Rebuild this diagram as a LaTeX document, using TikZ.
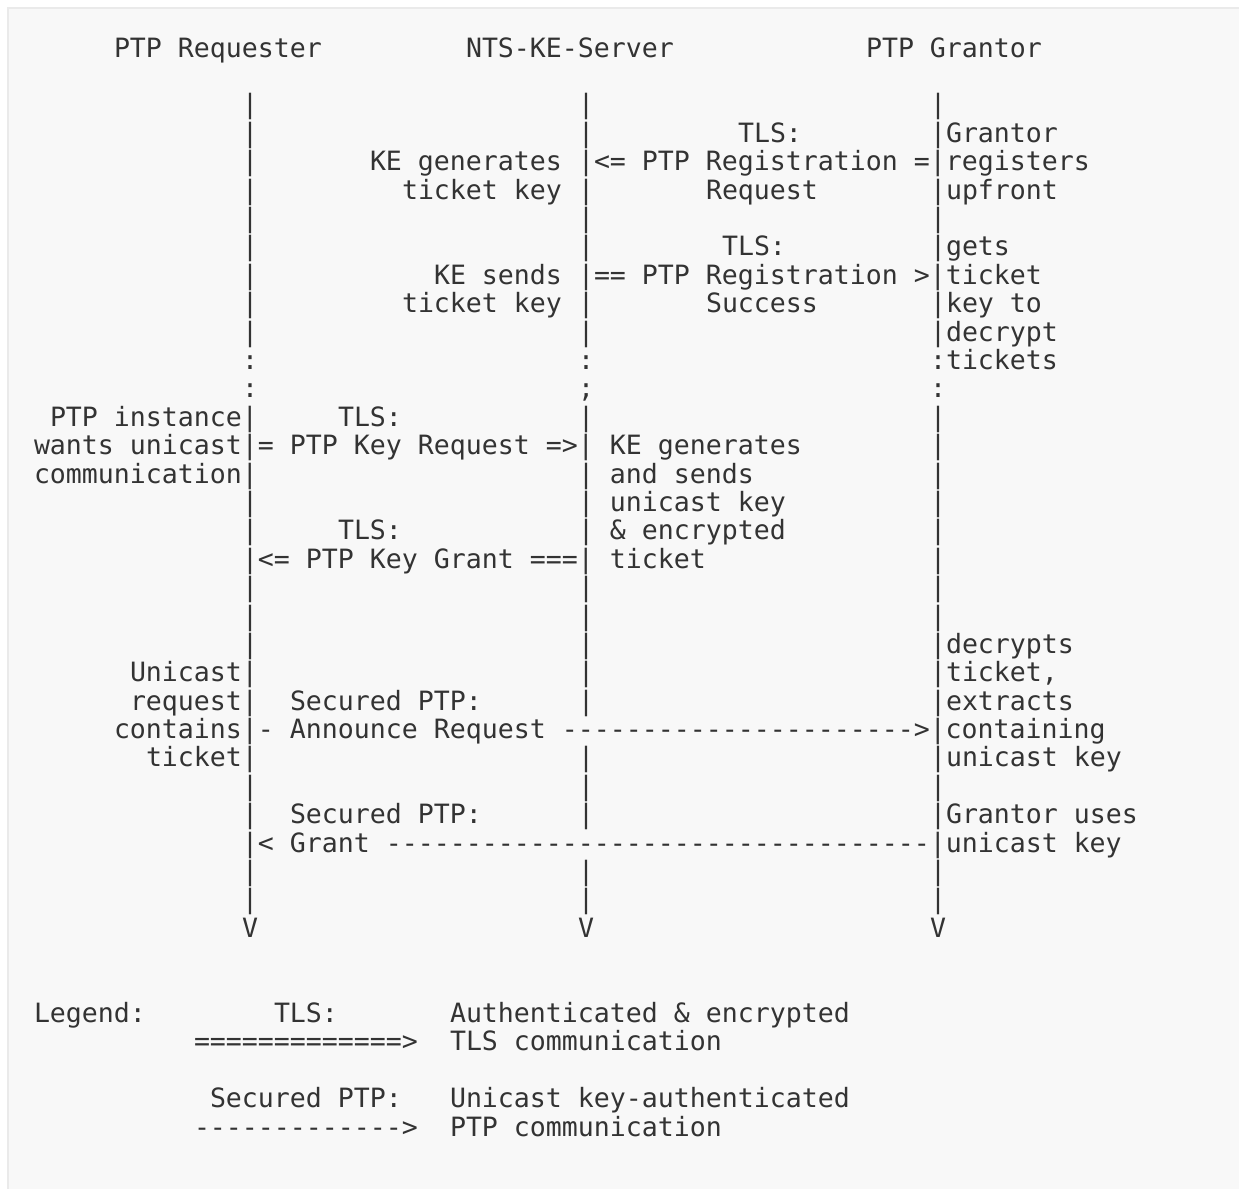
\documentclass[tikz,border=0pt]{standalone}
\usepackage{fontspec}
\setmonofont{DejaVu Sans Mono}
\definecolor{txtcol}{HTML}{333333}
\definecolor{bgcol}{HTML}{F8F8F8}
\definecolor{framecol}{HTML}{EAEAEA}
\tikzset{
  txt/.style={anchor=base west, inner sep=0pt, outer sep=0pt, text=txtcol,
    font=\ttfamily\fontsize{26.57}{28.39}\selectfont},
}
% place text at (line, column) of the character grid
\newcommand\putt[3]{\node[txt] (L#1-#2) at ({34+16*#2},{57.2+28.39*#1}) {#3};}
\newcommand\bars[1]{\putt{#1}{13}{|}\putt{#1}{34}{|}\putt{#1}{56}{|}}
\begin{document}
\begin{tikzpicture}[x=1pt,y=-1pt]
\useasboundingbox (0,0) rectangle (1239,1189);
\fill[white] (0,0) rectangle (1239,1189);
\fill[bgcol] (8,8) rectangle (1239,1189);
\draw[framecol, line width=2pt] (8,1189) -- (8,8) -- (1239,8);
% header
\putt{0}{5}{PTP Requester}
\putt{0}{27}{NTS-KE-Server}
\putt{0}{52}{PTP Grantor}
% registration
\bars{2}
\putt{3}{13}{|}\putt{3}{34}{|}\putt{3}{44}{TLS:}\putt{3}{56}{|Grantor}
\putt{4}{13}{|}\putt{4}{21}{KE generates}\putt{4}{34}{|<= PTP Registration =|registers}
\putt{5}{13}{|}\putt{5}{23}{ticket key}\putt{5}{34}{|}\putt{5}{42}{Request}\putt{5}{56}{|upfront}
\bars{6}
\putt{7}{13}{|}\putt{7}{34}{|}\putt{7}{43}{TLS:}\putt{7}{56}{|gets}
\putt{8}{13}{|}\putt{8}{25}{KE sends}\putt{8}{34}{|== PTP Registration >|ticket}
\putt{9}{13}{|}\putt{9}{23}{ticket key}\putt{9}{34}{|}\putt{9}{42}{Success}\putt{9}{56}{|key to}
\putt{10}{13}{|}\putt{10}{34}{|}\putt{10}{56}{|decrypt}
\putt{11}{13}{:}\putt{11}{34}{:}\putt{11}{56}{:tickets}
\putt{12}{13}{:}\putt{12}{34}{;}\putt{12}{56}{:}
% key request
\putt{13}{1}{PTP instance|}\putt{13}{19}{TLS:}\putt{13}{34}{|}\putt{13}{56}{|}
\putt{14}{0}{wants unicast|= PTP Key Request =>| KE generates}\putt{14}{56}{|}
\putt{15}{0}{communication|}\putt{15}{34}{| and sends}\putt{15}{56}{|}
\putt{16}{13}{|}\putt{16}{34}{| unicast key}\putt{16}{56}{|}
\putt{17}{13}{|}\putt{17}{19}{TLS:}\putt{17}{34}{| \& encrypted}\putt{17}{56}{|}
\putt{18}{13}{|<= PTP Key Grant ===| ticket}\putt{18}{56}{|}
\bars{19}
\bars{20}
% unicast
\putt{21}{13}{|}\putt{21}{34}{|}\putt{21}{56}{|decrypts}
\putt{22}{6}{Unicast|}\putt{22}{34}{|}\putt{22}{56}{|ticket,}
\putt{23}{6}{request|}\putt{23}{16}{Secured PTP:}\putt{23}{34}{|}\putt{23}{56}{|extracts}
\putt{24}{5}{contains|- Announce Request ----------{}----------{}-{}->|containing}
\putt{25}{7}{ticket|}\putt{25}{34}{|}\putt{25}{56}{|unicast key}
\bars{26}
\putt{27}{13}{|}\putt{27}{16}{Secured PTP:}\putt{27}{34}{|}\putt{27}{56}{|Grantor uses}
\putt{28}{13}{|< Grant ----------{}----------{}----------{}-{}-{}-{}-|unicast key}
\bars{29}
\bars{30}
\putt{31}{13}{V}\putt{31}{34}{V}\putt{31}{56}{V}
% legend
\putt{34}{0}{Legend:}\putt{34}{15}{TLS:}\putt{34}{26}{Authenticated \& encrypted}
\putt{35}{10}{=============>}\putt{35}{26}{TLS communication}
\putt{37}{11}{Secured PTP:}\putt{37}{26}{Unicast key-authenticated}
\putt{38}{10}{-{}-{}-{}-{}-{}-{}-{}-{}-{}-{}-{}-{}->}\putt{38}{26}{PTP communication}
\end{tikzpicture}
\end{document}
